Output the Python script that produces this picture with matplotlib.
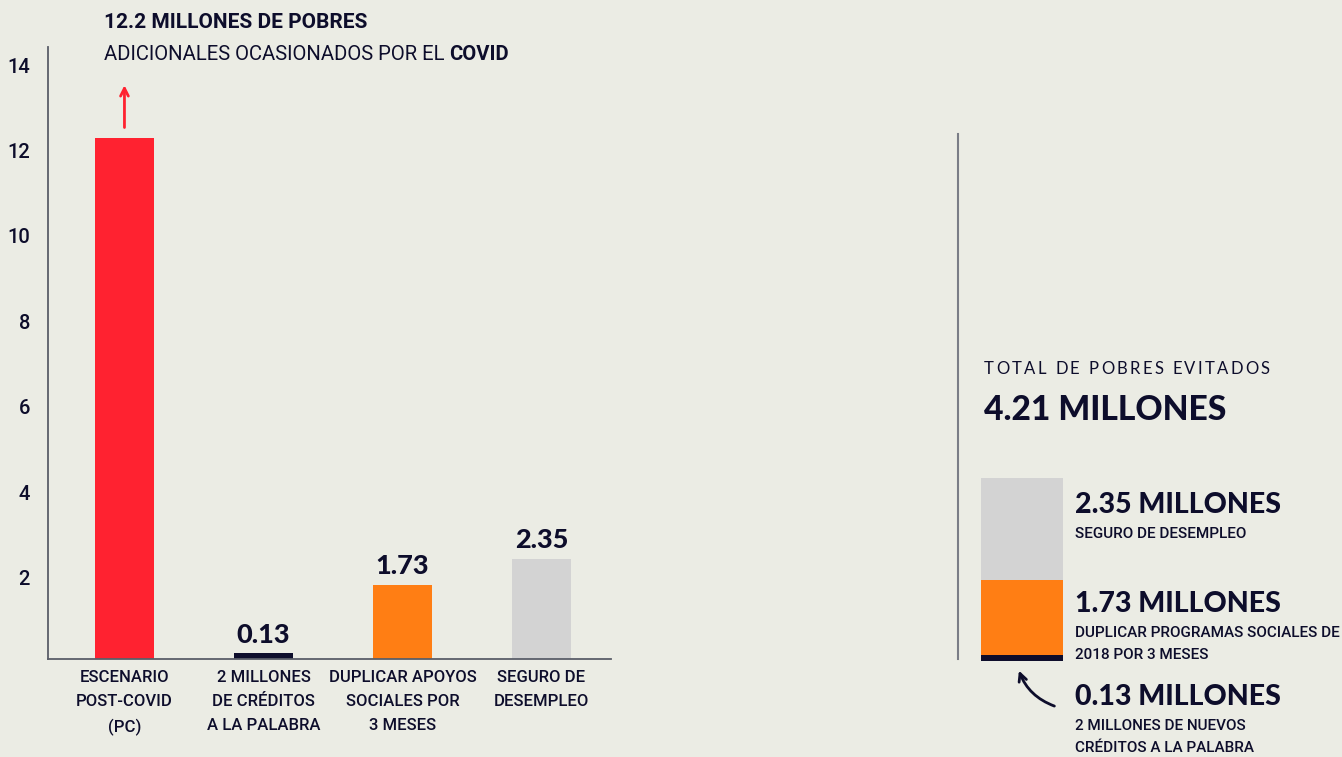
import matplotlib
matplotlib.use("Agg")
import matplotlib.pyplot as plt
import matplotlib.transforms as mtrans
from matplotlib import font_manager as fm

# ---------------- data ----------------
categories = ["ESCENARIO\nPOST-COVID\n(PC)", "2 MILLONES\nDE CRÉDITOS\nA LA PALABRA",
              "DUPLICAR APOYOS\nSOCIALES POR\n3 MESES", "SEGURO DE\nDESEMPLEO"]
values = [12.2, 0.13, 1.73, 2.35]
value_labels = ["", "0.13", "1.73", "2.35"]
yticks = [2, 4, 6, 8, 10, 12, 14]

stack_values = [0.13, 1.73, 2.35]
stack_titles = ["0.13 MILLONES", "1.73 MILLONES", "2.35 MILLONES"]
stack_desc = ["2 MILLONES DE NUEVOS\nCRÉDITOS A LA PALABRA",
              "DUPLICAR PROGRAMAS SOCIALES DE\n2018 POR 3 MESES",
              "SEGURO DE DESEMPLEO"]
total_caption = "TOTAL DE POBRES EVITADOS"
total_label = "4.21 MILLONES"

# ---------------- style ----------------
BG = "#EBECE4"
NAVY = "#0D0D2B"
RED = "#FF2230"
ORANGE = "#FF7E14"
GRAY = "#D3D3D3"
SPINE = "#5A5E68"
colors = [RED, NAVY, ORANGE, GRAY]
stack_colors = [NAVY, ORANGE, GRAY]

avail = {f.name for f in fm.fontManager.ttflist}
MAIN = ["Lato", "DejaVu Sans"]
COND = ["Liberation Sans Narrow", "Roboto", "DejaVu Sans"] if "Liberation Sans Narrow" in avail else ["Roboto", "DejaVu Sans"]
plt.rcParams['font.family'] = MAIN

W, H = 1342, 757
fig = plt.figure(figsize=(W / 100, H / 100), dpi=100, facecolor=BG)

def fx(px):
    return px / W

def fy(py):
    return 1 - py / H

# ---------------- left chart ----------------
ax = fig.add_axes([fx(48), fy(659), fx(611) - fx(48), fy(47) - fy(659)])
ax.set_facecolor(BG)
x = list(range(len(values)))
ax.bar(x, values, width=0.42, color=colors)
ax.set_xlim(-0.55, 3.5)
ax.set_ylim(0, 14.33)
for s in ["top", "right"]:
    ax.spines[s].set_visible(False)
for s in ["left", "bottom"]:
    ax.spines[s].set_color(SPINE)
    ax.spines[s].set_linewidth(1.3)
ax.set_yticks(yticks)
ax.set_yticklabels([str(t) for t in yticks], fontsize=14.5, color=NAVY, family=COND,
                   fontweight="medium")
ax.tick_params(axis="y", length=0, pad=13)
shift = mtrans.ScaledTranslation(0, -4 / 100, fig.dpi_scale_trans)
for lab in ax.get_yticklabels():
    lab.set_transform(lab.get_transform() + shift)
ax.set_xticks(x)
ax.set_xticklabels(categories, fontsize=12, color=NAVY, family=COND, linespacing=1.75,
                   fontweight="medium")
ax.tick_params(axis="x", length=0, pad=8)
for xi, v, lab in zip(x, values, value_labels):
    if lab:
        ax.annotate(lab, (xi, v), xytext=(0, 5), textcoords="offset points",
                    ha="center", va="bottom", fontsize=19.5, fontweight="black", color=NAVY)

# red arrow above first bar
ax.annotate("", xy=(0, 13.5), xytext=(0, 12.38),
            arrowprops=dict(arrowstyle="->", color=RED, lw=2, mutation_scale=14))

# headline
fig.text(fx(104), fy(23), "12.2 MILLONES DE POBRES", fontsize=15, fontweight="bold",
         color=NAVY, va="center", ha="left", family=COND)
t1 = fig.text(fx(104), fy(54), "ADICIONALES OCASIONADOS POR EL ", fontsize=14.6,
              color=NAVY, va="center", ha="left", family=COND)
fig.canvas.draw()
renderer = fig.canvas.get_renderer()
bb = t1.get_window_extent(renderer)
fig.text(bb.x1 / W, fy(54), "COVID", fontsize=14.6, fontweight="bold",
         color=NAVY, va="center", ha="left", family=COND)

# ---------------- divider ----------------
fig.add_artist(plt.Line2D([fx(958), fx(958)], [fy(134), fy(659)], color="#7A7D86", lw=1.5))

# ---------------- right stacked bar ----------------
ax2 = fig.add_axes([fx(981), fy(661), fx(1063) - fx(981), fy(478) - fy(661)])
ax2.set_facecolor(BG)
bottom = 0
for v, c in zip(stack_values, stack_colors):
    ax2.bar([0], [v], bottom=bottom, width=1.0, color=c)
    bottom += v
ax2.set_xlim(-0.5, 0.5)
ax2.set_ylim(0, sum(stack_values))
ax2.axis("off")

# letter-spaced caption
cx = 984.0
for ch in total_caption:
    t = fig.text(fx(cx), fy(369), ch, fontsize=12, color=NAVY, va="center", ha="left")
    w = t.get_window_extent(renderer).width
    if ch == " ":
        w = 4.5
    cx += w + 2.3

fig.text(fx(984), fy(410), total_label, fontsize=24.2, fontweight="black", color=NAVY,
         va="center", ha="left")

title_y = [697, 604, 505]
desc_y = [737, 644, 534]
for t, d, ty, dy in zip(stack_titles, stack_desc, title_y, desc_y):
    fig.text(fx(1075), fy(ty), t, fontsize=20.5, fontweight="black", color=NAVY,
             va="center", ha="left")
    fig.text(fx(1075), fy(dy), d, fontsize=11, color=NAVY, va="center", ha="left",
             family=COND, linespacing=1.75, fontweight="medium")

# curved arrow pointing to the thin navy segment
fig.add_artist(matplotlib.patches.FancyArrowPatch(
    (fx(1057), fy(707)), (fx(1018), fy(668)), transform=fig.transFigure,
    connectionstyle="arc3,rad=-0.25", arrowstyle="->", mutation_scale=14,
    color=NAVY, lw=2))

fig.savefig("out.png", dpi=100, facecolor=BG)
